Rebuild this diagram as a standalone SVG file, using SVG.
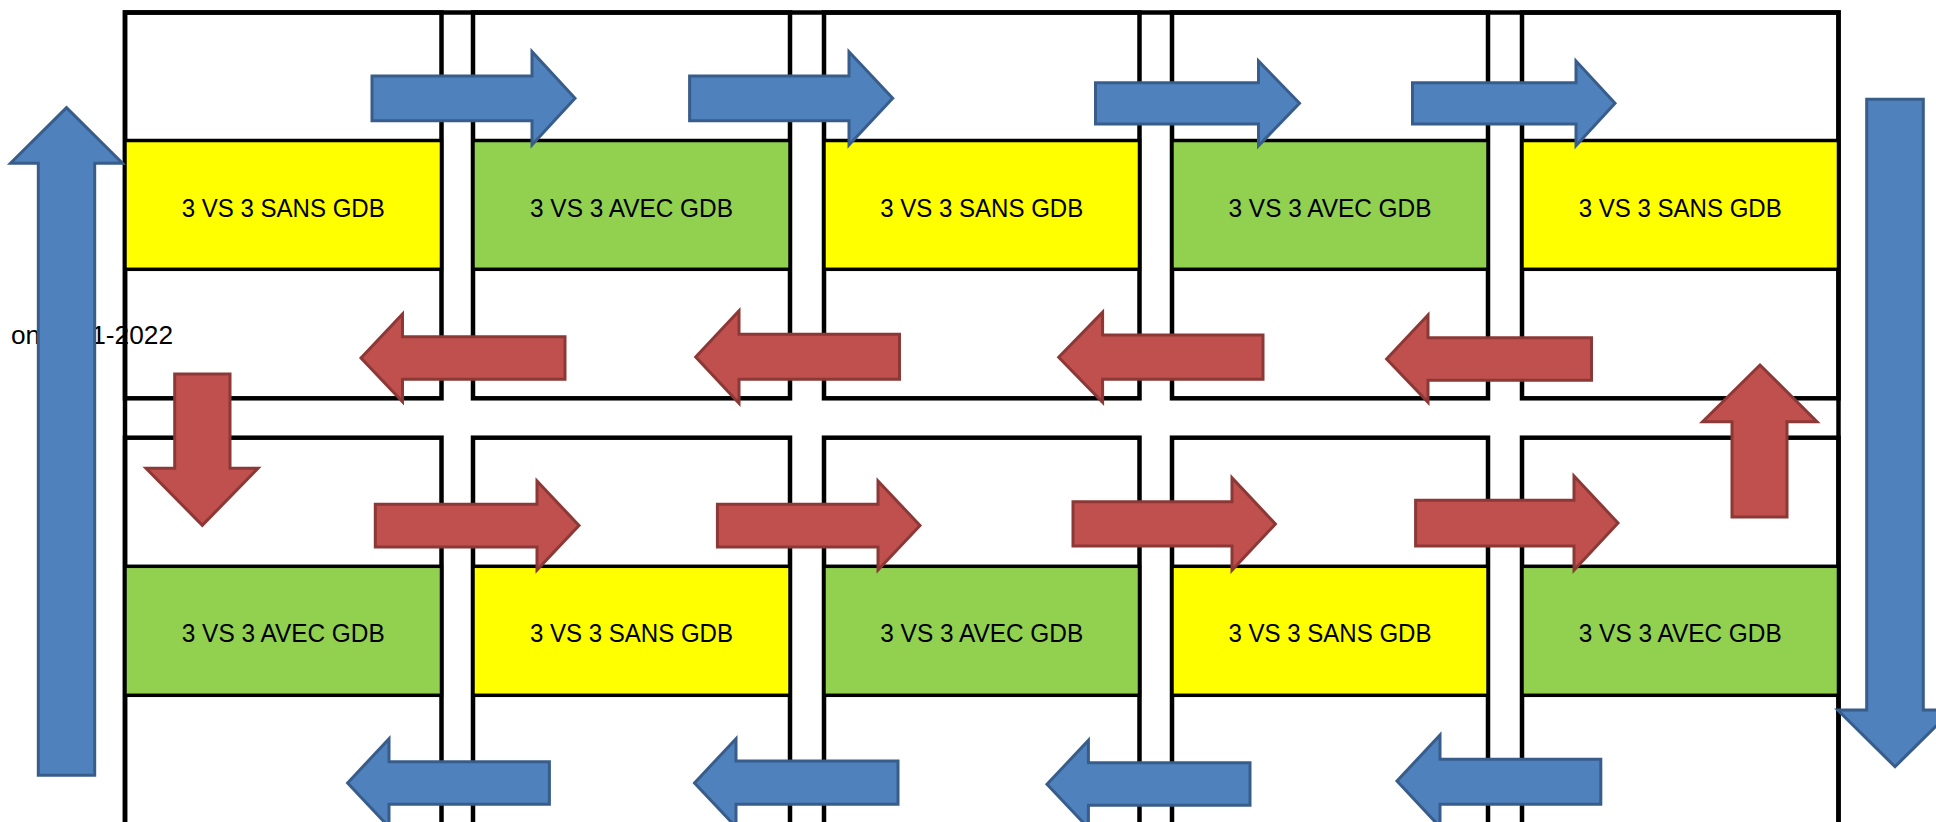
<svg xmlns="http://www.w3.org/2000/svg" width="1936" height="822" viewBox="0 0 1936 822">
  <style>
    .grid { fill: none; stroke: #000; stroke-width: 4.5; }
    .box { stroke: #000; stroke-width: 3.5; }
    .yellow { fill: #FFFF00; }
    .green { fill: #92D050; }
    .lbl { font-family: "Liberation Sans", Arial, sans-serif; font-size: 26.5px; fill: #000; text-anchor: middle; }
    .side { font-family: "Liberation Sans", Arial, sans-serif; font-size: 26.5px; fill: #000; }
    .blue { fill: #4F81BD; stroke: #385D8A; stroke-width: 3; stroke-linejoin: miter; }
    .red { fill: #C0504D; stroke: #8C3836; stroke-width: 3; stroke-linejoin: miter; }
  </style>
  <rect width="1936" height="822" fill="#fff"/>

  <g id="grid">
    <rect class="grid" x="125" y="12.5" width="1713.5" height="830"/>
    <rect class="grid" x="125" y="12.5" width="316.5" height="385.8"/>
    <rect class="grid" x="473" y="12.5" width="317" height="385.8"/>
    <rect class="grid" x="824" y="12.5" width="315.5" height="385.8"/>
    <rect class="grid" x="1172" y="12.5" width="316" height="385.8"/>
    <rect class="grid" x="1522" y="12.5" width="316.5" height="385.8"/>
    <rect class="grid" x="125" y="437.7" width="316.5" height="400"/>
    <rect class="grid" x="473" y="437.7" width="317" height="400"/>
    <rect class="grid" x="824" y="437.7" width="315.5" height="400"/>
    <rect class="grid" x="1172" y="437.7" width="316" height="400"/>
    <rect class="grid" x="1522" y="437.7" width="316.5" height="400"/>
  </g>

  <g id="t1">
    <rect class="box yellow" x="125" y="140.5" width="316.5" height="128.8"/>
    <text class="lbl" x="283.25" y="216.5" textLength="203" lengthAdjust="spacingAndGlyphs">3 VS 3 SANS GDB</text>
  </g>
  <g id="t2">
    <rect class="box green" x="473" y="140.5" width="317" height="128.8"/>
    <text class="lbl" x="631.5" y="216.5" textLength="203" lengthAdjust="spacingAndGlyphs">3 VS 3 AVEC GDB</text>
  </g>
  <g id="t3">
    <rect class="box yellow" x="824" y="140.5" width="315.5" height="128.8"/>
    <text class="lbl" x="981.75" y="216.5" textLength="203" lengthAdjust="spacingAndGlyphs">3 VS 3 SANS GDB</text>
  </g>
  <g id="t4">
    <rect class="box green" x="1172" y="140.5" width="316" height="128.8"/>
    <text class="lbl" x="1330" y="216.5" textLength="203" lengthAdjust="spacingAndGlyphs">3 VS 3 AVEC GDB</text>
  </g>
  <g id="t5">
    <rect class="box yellow" x="1522" y="140.5" width="316.5" height="128.8"/>
    <text class="lbl" x="1680.25" y="216.5" textLength="203" lengthAdjust="spacingAndGlyphs">3 VS 3 SANS GDB</text>
  </g>

  <g id="b1">
    <rect class="box green" x="125" y="566.3" width="316.5" height="129"/>
    <text class="lbl" x="283.25" y="642" textLength="203" lengthAdjust="spacingAndGlyphs">3 VS 3 AVEC GDB</text>
  </g>
  <g id="b2">
    <rect class="box yellow" x="473" y="566.3" width="317" height="129"/>
    <text class="lbl" x="631.5" y="642" textLength="203" lengthAdjust="spacingAndGlyphs">3 VS 3 SANS GDB</text>
  </g>
  <g id="b3">
    <rect class="box green" x="824" y="566.3" width="315.5" height="129"/>
    <text class="lbl" x="981.75" y="642" textLength="203" lengthAdjust="spacingAndGlyphs">3 VS 3 AVEC GDB</text>
  </g>
  <g id="b4">
    <rect class="box yellow" x="1172" y="566.3" width="316" height="129"/>
    <text class="lbl" x="1330" y="642" textLength="203" lengthAdjust="spacingAndGlyphs">3 VS 3 SANS GDB</text>
  </g>
  <g id="b5">
    <rect class="box green" x="1522" y="566.3" width="316.5" height="129"/>
    <text class="lbl" x="1680.25" y="642" textLength="203" lengthAdjust="spacingAndGlyphs">3 VS 3 AVEC GDB</text>
  </g>

  <g id="season">
    <text class="side" x="11" y="344" textLength="162" lengthAdjust="spacingAndGlyphs">on 2021-2022</text>
  </g>

  <g id="connectors">
    <!-- top row blue right arrows -->
    <polygon class="blue" points="372,76 532,76 532,51.7 575,98.3 532,145 532,120.7 372,120.7"/>
    <polygon class="blue" points="689.6,76 849,76 849,51.7 892.7,98.3 849,145 849,120.7 689.6,120.7"/>
    <polygon class="blue" points="1095.5,82.7 1258.5,82.7 1258.5,61 1299.5,103.3 1258.5,145.7 1258.5,124 1095.5,124"/>
    <polygon class="blue" points="1412.5,82.7 1576,82.7 1576,61 1615,103.3 1576,145.7 1576,124 1412.5,124"/>
    <!-- top row red left arrows -->
    <polygon class="red" points="565,336.7 402.5,336.7 402.5,314 361,358 402.5,401.7 402.5,379.3 565,379.3"/>
    <polygon class="red" points="899.5,334.3 739,334.3 739,310.7 695.7,357 739,403.3 739,379.3 899.5,379.3"/>
    <polygon class="red" points="1263,335 1102.6,335 1102.6,312.3 1058.7,357.3 1102.6,402.3 1102.6,379.3 1263,379.3"/>
    <polygon class="red" points="1591.5,337.7 1428,337.7 1428,315 1386.6,359 1428,402.3 1428,380.3 1591.5,380.3"/>
    <!-- bottom row red right arrows -->
    <polygon class="red" points="375.3,504.3 537,504.3 537,481 579,525.5 537,570 537,547 375.3,547"/>
    <polygon class="red" points="717.4,504.3 878,504.3 878,481 920,525.5 878,570 878,547 717.4,547"/>
    <polygon class="red" points="1073,501.7 1232,501.7 1232,477.7 1275.4,524 1232,570.3 1232,546 1073,546"/>
    <polygon class="red" points="1415.6,500.3 1574,500.3 1574,476 1618,523 1574,570.3 1574,546 1415.6,546"/>
    <!-- bottom row blue left arrows -->
    <polygon class="blue" points="549.4,761.7 389,761.7 389,738.7 347.6,783 389,827 389,804.3 549.4,804.3"/>
    <polygon class="blue" points="898,761 736,761 736,738.7 694.5,783 736,827 736,804.3 898,804.3"/>
    <polygon class="blue" points="1250,762.7 1088.4,762.7 1088.4,740.3 1047,784.3 1088.4,828 1088.4,805.3 1250,805.3"/>
    <polygon class="blue" points="1600.8,759.3 1440,759.3 1440,735 1397,781 1440,827 1440,804.3 1600.8,804.3"/>
    <!-- red down arrow (left) -->
    <polygon class="red" points="174.7,374 230,374 230,468.3 258,468.3 202.3,525.3 146,468.3 174.7,468.3"/>
    <!-- red up arrow (right) -->
    <polygon class="red" points="1732,517 1787,517 1787,421.7 1817,421.7 1760,365 1702.6,421.7 1732,421.7"/>
    <!-- blue up arrow (far left) -->
    <polygon class="blue" points="38.3,775.3 94.7,775.3 94.7,163.3 122.5,163.3 66.5,107.7 10.5,163.3 38.3,163.3"/>
    <!-- blue down arrow (far right) -->
    <polygon class="blue" points="1866.7,99.3 1923.3,99.3 1923.3,710 1952.3,710 1895,766.7 1837.7,710 1866.7,710"/>
  </g>
</svg>
